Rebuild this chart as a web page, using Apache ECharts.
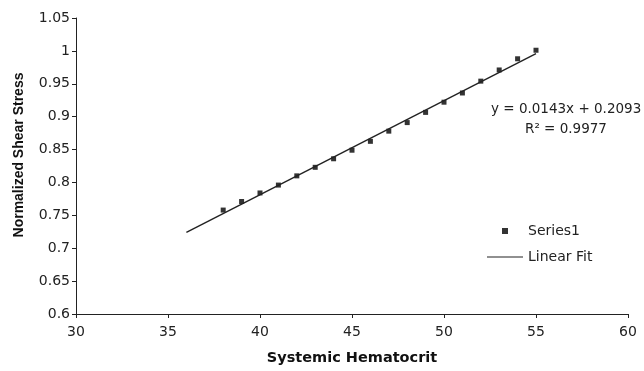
<!DOCTYPE html>
<html>
<head>
<meta charset="utf-8">
<script src="https://cdn.jsdelivr.net/npm/echarts@6/dist/echarts.min.js"></script>
<style>html,body{margin:0;padding:0;background:#fff}#c{width:644px;height:371px}</style>
</head>
<body>
<div id="c"></div>
<script>
var hematocrit = [38,39,40,41,42,43,44,45,46,47,48,49,50,51,52,53,54,55];
var shearStress = [0.758,0.771,0.784,0.796,0.810,0.823,0.836,0.849,0.8625,0.878,0.891,0.9065,0.922,0.936,0.954,0.971,0.988,1.001];
var fitX = [36,55];
var fitY = [0.7241,0.9958];
var xTicks = {min:30,max:60,interval:5};
var yTicks = {min:0.6,max:1.05,interval:0.05};
var equationText = 'y = 0.0143x + 0.2093';
var r2Text = 'R\u00b2 = 0.9977';

var chart = echarts.init(document.getElementById('c'));
var tickFont = 'DejaVu Sans';
chart.setOption({
  animation:false,
  backgroundColor:'#fff',
  grid:{left:76,right:16,top:18,bottom:57,containLabel:false},
  xAxis:{type:'value',min:xTicks.min,max:xTicks.max,interval:xTicks.interval,
    name:'Systemic Hematocrit',nameLocation:'middle',nameGap:37,
    nameTextStyle:{fontFamily:'DejaVu Sans',fontWeight:'bold',fontSize:14.5,color:'#111'},
    axisLine:{lineStyle:{color:'#222',width:1}},
    axisTick:{show:true,length:4,lineStyle:{color:'#222'}},
    axisLabel:{fontFamily:tickFont,fontSize:14,color:'#222',margin:11},
    splitLine:{show:false}},
  yAxis:{type:'value',min:yTicks.min,max:yTicks.max,interval:yTicks.interval,
    name:'Normalized Shear Stress',nameLocation:'middle',nameGap:50,nameRotate:90,
    nameTextStyle:{fontFamily:'Liberation Sans',fontWeight:'bold',fontSize:14,color:'#111',padding:[0,0,0,22]},
    axisLine:{show:true,lineStyle:{color:'#222',width:1}},
    axisTick:{show:true,length:4,lineStyle:{color:'#222'}},
    axisLabel:{fontFamily:tickFont,fontSize:14,color:'#222',margin:6,
      formatter:function(v){return String(parseFloat(v.toFixed(2)));}},
    splitLine:{show:false}},
  legend:{orient:'vertical',left:482,top:219,itemWidth:36,itemHeight:6,itemGap:12,
    textStyle:{fontFamily:tickFont,fontSize:14,color:'#222'},
    data:[
      {name:'Series1',icon:'path://M0,0H10V10H0Z',itemStyle:{color:'#000'}},
      {name:'Linear Fit',icon:'path://M0,2.6H36V3.4H0Z',itemStyle:{color:'#222'}}
    ]},
  series:[
    {name:'Series1',type:'scatter',symbol:'rect',symbolSize:5,
      itemStyle:{color:'#000'},
      data:hematocrit.map(function(x,i){return [x,shearStress[i]];})},
    {name:'Linear Fit',type:'line',showSymbol:false,symbol:'none',
      lineStyle:{color:'#222',width:1.4},itemStyle:{color:'#222'},
      data:fitX.map(function(x,i){return [x,fitY[i]];})}
  ],
  graphic:[
    {type:'text',left:491,top:102,style:{text:equationText,font:'13.5px "DejaVu Sans"',fill:'#222'}},
    {type:'text',left:525,top:122,style:{text:r2Text,font:'13.5px "DejaVu Sans"',fill:'#222'}}
  ]
});
</script>
</body>
</html>
